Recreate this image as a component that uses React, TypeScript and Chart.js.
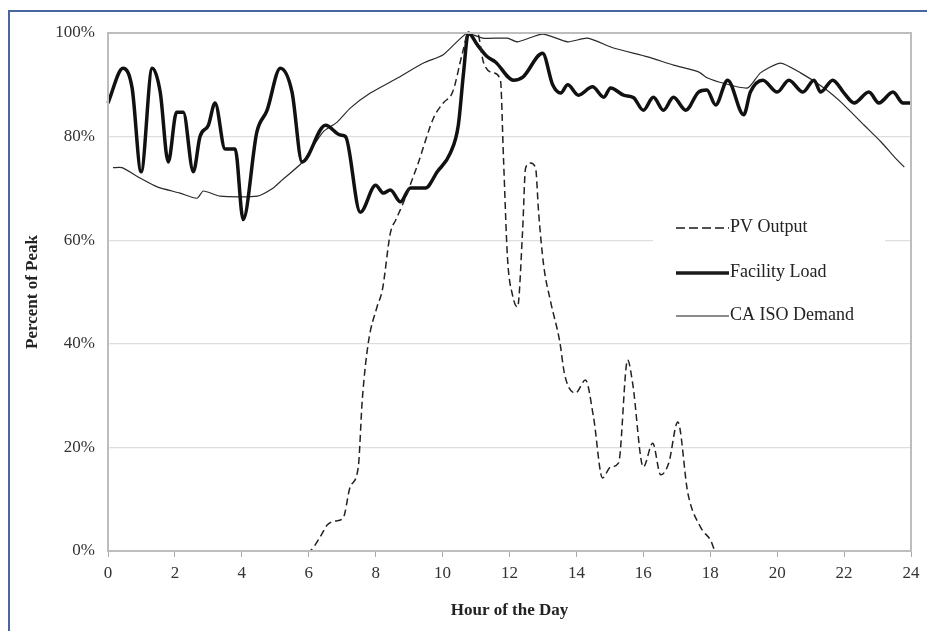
import React, { useEffect, useRef } from "react";
import { Chart, registerables } from "chart.js";

Chart.register(...registerables);

const xTicks = [0, 2, 4, 6, 8, 10, 12, 14, 16, 18, 20, 22, 24];
const yTicks = [0, 20, 40, 60, 80, 100];

const pvHours = [0, 6.0, 6.34, 6.55, 6.8, 7.03, 7.24, 7.48, 7.6, 7.78, 8.04, 8.2, 8.44, 8.6, 8.8, 9.25, 9.73, 10.02, 10.3, 10.6, 10.77, 11.04, 11.22, 11.52, 11.73, 11.82, 11.94, 12.09, 12.24, 12.39, 12.48, 12.63, 12.78, 12.87, 13.02, 13.23, 13.5, 13.65, 13.97, 14.27, 14.51, 14.78, 15.02, 15.26, 15.53, 15.68, 16.0, 16.28, 16.52, 16.76, 17.03, 17.33, 17.71, 18.01, 18.16, 24];
const pvOutput = [0, 0, 2.7, 5, 5.8, 6.4, 12.4, 16.2, 29.2, 40.2, 47.1, 50.4, 61.4, 63.9, 66.8, 74.5, 83.6, 86.5, 88.6, 96.3, 100, 100, 94.4, 92.3, 90.9, 75.9, 56.6, 49.4, 47.1, 61.6, 73.9, 74.9, 73.9, 65.4, 55.2, 48.1, 40.5, 34, 30.5, 33, 25.9, 14.1, 16.2, 17, 36.9, 32.4, 16.2, 20.8, 14.7, 17, 24.9, 11.2, 4.6, 2.1, 0, 0];

const loadHours = [0, 0.45, 0.72, 0.99, 1.32, 1.56, 1.8, 2.05, 2.25, 2.55, 2.75, 3.0, 3.2, 3.5, 3.8, 4.04, 4.45, 4.75, 5.15, 5.5, 5.8, 6.5, 6.95, 7.1, 7.54, 8.0, 8.23, 8.44, 8.74, 9.04, 9.49, 9.84, 10.23, 10.47, 10.62, 10.77, 11.04, 11.34, 11.58, 12.12, 12.4, 12.99, 13.29, 13.53, 13.74, 14.06, 14.48, 14.82, 15.02, 15.41, 15.71, 16.0, 16.3, 16.6, 16.9, 17.27, 17.65, 17.9, 18.16, 18.52, 19.0, 19.2, 19.57, 20.0, 20.35, 20.77, 21.1, 21.3, 21.66, 22.0, 22.3, 22.74, 23.04, 23.46, 23.76, 24];
const facilityLoad = [86.5, 93.2, 89.4, 73.2, 93.2, 88.6, 75.1, 84.7, 84.7, 73.2, 80, 82.2, 86.5, 77.6, 77.6, 64, 80.9, 85, 93.2, 88.6, 75.1, 82.2, 80.3, 80.0, 65.4, 70.6, 69.1, 69.7, 67.4, 70.1, 70.1, 73.2, 76.8, 82.2, 91.9, 100, 97.7, 95.4, 94.4, 90.9, 91.5, 96.1, 90, 88.4, 90, 88, 89.6, 87.6, 89.4, 88, 87.5, 85.1, 87.6, 85.1, 87.6, 85.1, 88.6, 89, 86.1, 90.9, 84.2, 88.6, 90.9, 88.6, 90.9, 88.6, 90.9, 88.6, 90.9, 88.4, 86.5, 88.6, 86.5, 88.6, 86.5, 86.5];

const isoHours = [0.15, 0.42, 0.96, 1.47, 2.15, 2.66, 2.85, 3.35, 4.46, 4.94, 5.2, 5.8, 6.43, 6.85, 7.24, 7.84, 8.65, 9.43, 10.02, 10.74, 11.2, 11.94, 12.24, 12.99, 13.74, 14.33, 15.11, 16.13, 16.9, 17.65, 17.92, 18.4, 19.12, 19.5, 20.1, 20.7, 21.4, 21.9, 22.6, 23.1, 23.5, 23.8];
const isoDemand = [74, 74, 72, 70.3, 69.1, 68.1, 69.5, 68.5, 68.5, 70.1, 71.6, 75, 80.9, 82.8, 85.5, 88.4, 91.3, 94.2, 95.8, 100, 99, 99, 98.3, 99.8, 98.3, 99, 97.1, 95.4, 93.8, 92.5, 91.3, 90.3, 89.4, 92.3, 94.2, 92.3, 89.4, 86.7, 82.2, 79, 76.1, 74.1];

const seriesNames = ["PV Output", "Facility Load", "CA ISO Demand"];

const zip = (xs: number[], ys: number[]) =>
  xs.slice(0, Math.min(xs.length, ys.length)).map((x, i) => ({ x, y: ys[i] }));

const SERIF = "'Liberation Serif', 'Times New Roman', serif";

const framePlugin = {
  id: "frame",
  afterDatasetsDraw(chart: any) {
    const { ctx, chartArea: a } = chart;
    ctx.save();
    ctx.strokeStyle = "#bdbdbd";
    ctx.lineWidth = 2;
    ctx.strokeRect(a.left, a.top, a.right - a.left, a.bottom - a.top);
    ctx.restore();
  },
};

const legendPlugin = {
  id: "boxLegend",
  afterDraw(chart: any) {
    const { ctx } = chart;
    ctx.save();
    ctx.fillStyle = "#ffffff";
    ctx.fillRect(653, 206, 232, 128);
    const rows = [227, 272, 315];
    const styles = [
      { w: 1.5, dash: [9, 4] },
      { w: 3.5, dash: [] },
      { w: 1.2, dash: [] },
    ];
    rows.forEach((y, i) => {
      ctx.beginPath();
      ctx.setLineDash(styles[i].dash);
      ctx.lineWidth = styles[i].w;
      ctx.strokeStyle = "#1a1a1a";
      ctx.moveTo(676, y + 1);
      ctx.lineTo(729, y + 1);
      ctx.stroke();
      ctx.setLineDash([]);
      ctx.fillStyle = "#222";
      ctx.font = `18px ${SERIF}`;
      ctx.textBaseline = "middle";
      ctx.fillText(seriesNames[i], 730, y);
    });
    ctx.restore();
  },
};

export default function App() {
  const ref = useRef<HTMLCanvasElement | null>(null);

  useEffect(() => {
    if (!ref.current) return;
    const chart = new Chart(ref.current, {
      type: "line",
      data: {
        datasets: [
          {
            label: seriesNames[0],
            data: zip(pvHours, pvOutput),
            borderColor: "#222",
            borderWidth: 1.5,
            borderDash: [7, 4],
            pointRadius: 0,
            cubicInterpolationMode: "monotone",
            fill: false,
          },
          {
            label: seriesNames[1],
            data: zip(loadHours, facilityLoad),
            borderColor: "#111",
            borderWidth: 3.5,
            pointRadius: 0,
            cubicInterpolationMode: "monotone",
            fill: false,
          },
          {
            label: seriesNames[2],
            data: zip(isoHours, isoDemand),
            borderColor: "#2a2a2a",
            borderWidth: 1.2,
            pointRadius: 0,
            tension: 0.2,
            fill: false,
          },
        ],
      },
      options: {
        animation: false,
        responsive: false,
        maintainAspectRatio: false,
        clip: 4,
        layout: { padding: { left: 22, right: 16, top: 33, bottom: 10 } },
        plugins: { legend: { display: false }, tooltip: { enabled: false } },
        scales: {
          x: {
            type: "linear",
            min: 0,
            max: 24,
            afterBuildTicks: (s: any) => {
              s.ticks = xTicks.map((v) => ({ value: v }));
            },
            afterFit: (s: any) => {
              s.height = 70;
            },
            ticks: {
              color: "#333",
              font: { family: SERIF, size: 17 },
              padding: 6,
              maxRotation: 0,
            },
            grid: {
              display: true,
              drawOnChartArea: false,
              drawTicks: true,
              tickLength: 6,
              color: "#aaa",
            },
            border: { display: true, color: "#bdbdbd", width: 2 },
            title: {
              display: true,
              text: "Hour of the Day",
              color: "#222",
              font: { family: SERIF, size: 17, weight: "bold" },
              padding: { top: 0, bottom: 0 },
            },
          },
          y: {
            min: 0,
            max: 100,
            afterBuildTicks: (s: any) => {
              s.ticks = yTicks.map((v) => ({ value: v }));
            },
            afterFit: (s: any) => {
              s.width = 86;
            },
            ticks: {
              color: "#333",
              font: { family: SERIF, size: 17 },
              padding: 13,
              callback: (v: any) => `${v}%`,
            },
            grid: { color: "#dedede", lineWidth: 1.2, drawTicks: false },
            border: { display: true, color: "#bdbdbd", width: 2 },
            title: {
              display: true,
              text: "Percent of Peak",
              color: "#222",
              font: { family: SERIF, size: 17, weight: "bold" },
              padding: { top: 0, bottom: 0 },
            },
          },
        },
      },
      plugins: [framePlugin, legendPlugin],
    } as any);
    return () => chart.destroy();
  }, []);

  return (
    <div
      style={{
        position: "fixed",
        left: 0,
        top: 0,
        width: 927,
        height: 631,
        background: "#fff",
      }}
    >
      <canvas ref={ref} width={927} height={631} style={{ position: "absolute", left: 0, top: 0 }} />
      <div
        style={{
          position: "absolute",
          left: 8,
          top: 10,
          width: 919,
          height: 621,
          borderTop: "2px solid #4a66a0",
          borderLeft: "2px solid #4a66a0",
          pointerEvents: "none",
          boxSizing: "border-box",
        }}
      />
    </div>
  );
}
